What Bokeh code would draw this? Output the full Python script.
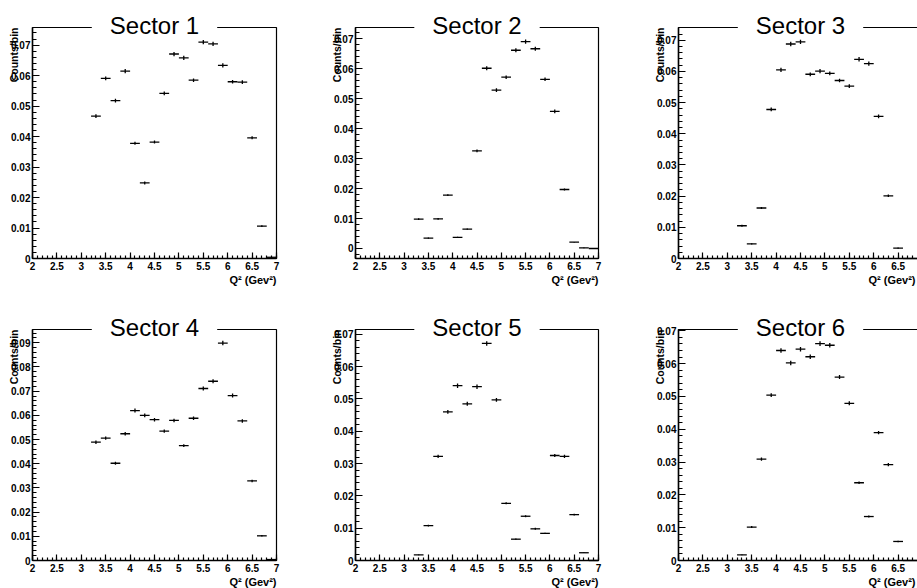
import numpy as np
from bokeh.plotting import figure
from bokeh.models import LinearAxis, FixedTicker, Range1d, Label, ColumnDataSource, BoxAnnotation
from bokeh.layouts import column, row
from bokeh.embed import file_html
from bokeh.resources import INLINE

# ---------------- data ----------------
q2_centers = [3.3, 3.5, 3.7, 3.9, 4.1, 4.3, 4.5, 4.7, 4.9, 5.1,
              5.3, 5.5, 5.7, 5.9, 6.1, 6.3, 6.5, 6.7, 6.9]
bin_width = 0.2

sector1 = [0.0467, 0.0591, 0.0518, 0.0615, 0.0378, 0.0248, 0.0382, 0.0542, 0.0671, 0.0658,
           0.0585, 0.0710, 0.0704, 0.0634, 0.0580, 0.0579, 0.0396, 0.0106, 0.0004]
sector1_err = [0.0006, 0.0006, 0.0006, 0.0007, 0.0005, 0.0005, 0.0005, 0.0006, 0.0007, 0.0007,
               0.0006, 0.0007, 0.0007, 0.0007, 0.0006, 0.0006, 0.0005, 0.0003, 0.0001]

sector2 = [0.0098, 0.00345, 0.0099, 0.0178, 0.0037, 0.00645, 0.0326, 0.0602, 0.0529, 0.0572,
           0.0662, 0.0691, 0.0667, 0.0565, 0.0458, 0.0197, 0.0021, 0.0002, 0.0]
sector2_err = [0.0003, 0.0002, 0.0003, 0.0003, 0.0002, 0.0002, 0.0005, 0.0007, 0.0006, 0.0006,
               0.0007, 0.0007, 0.0007, 0.0006, 0.0006, 0.0003, 0.0001, 0.0001, 0.0]

sector3 = [0.0105, 0.0047, 0.0162, 0.0478, 0.0605, 0.0688, 0.0695, 0.0591, 0.0601, 0.0594,
           0.0571, 0.0553, 0.0639, 0.0625, 0.0456, 0.0201, 0.0033, 0.0, 0.0]
sector3_err = [0.0003, 0.0002, 0.0003, 0.0006, 0.0007, 0.0007, 0.0007, 0.0006, 0.0007, 0.0006,
               0.0006, 0.0006, 0.0007, 0.0007, 0.0006, 0.0004, 0.0002, 0.0, 0.0]

sector4 = [0.0489, 0.0506, 0.0402, 0.0524, 0.0620, 0.0600, 0.0582, 0.0535, 0.0579, 0.0475,
           0.0588, 0.0711, 0.0741, 0.0899, 0.0682, 0.0577, 0.0329, 0.0102, 0.0004]
sector4_err = [0.0007, 0.0007, 0.0006, 0.0007, 0.0008, 0.0008, 0.0007, 0.0007, 0.0007, 0.0006,
               0.0007, 0.0008, 0.0008, 0.0009, 0.0008, 0.0007, 0.0005, 0.0003, 0.0001]

sector5 = [0.00175, 0.0108, 0.0322, 0.0460, 0.0541, 0.0485, 0.0538, 0.0672, 0.0497, 0.0177,
           0.0066, 0.0137, 0.0098, 0.0084, 0.0325, 0.0322, 0.0142, 0.0024, 0.0]
sector5_err = [0.0001, 0.0003, 0.0005, 0.0006, 0.0007, 0.0006, 0.0007, 0.0007, 0.0006, 0.0003,
               0.0002, 0.0003, 0.0003, 0.0002, 0.0005, 0.0005, 0.0003, 0.0001, 0.0]

sector6 = [0.0017, 0.0102, 0.0309, 0.0504, 0.0640, 0.0602, 0.0644, 0.0621, 0.0661, 0.0656,
           0.0559, 0.0479, 0.0237, 0.0134, 0.0390, 0.0292, 0.0058, 0.0, 0.0]
sector6_err = [0.0001, 0.0003, 0.0005, 0.0006, 0.0007, 0.0007, 0.0007, 0.0007, 0.0007, 0.0007,
               0.0006, 0.0006, 0.0004, 0.0003, 0.0005, 0.0005, 0.0002, 0.0, 0.0]

titles = ["Sector 1", "Sector 2", "Sector 3", "Sector 4", "Sector 5", "Sector 6"]
y_title = "Counts/bin"
x_title = "Q\u00b2 (Gev\u00b2)"

x_ticks = [2, 2.5, 3, 3.5, 4, 4.5, 5, 5.5, 6, 6.5, 7]
x_tick_labels = ["2", "2.5", "3", "3.5", "4", "4.5", "5", "5.5", "6", "6.5", "7"]

y_ticks_07 = [0, 0.01, 0.02, 0.03, 0.04, 0.05, 0.06, 0.07]
y_tick_labels_07 = ["0", "0.01", "0.02", "0.03", "0.04", "0.05", "0.06", "0.07"]
y_ticks_09 = [0, 0.01, 0.02, 0.03, 0.04, 0.05, 0.06, 0.07, 0.08, 0.09]
y_tick_labels_09 = ["0", "0.01", "0.02", "0.03", "0.04", "0.05", "0.06", "0.07", "0.08", "0.09"]

y_min = [0.0, -0.00334, 0.0, 0.0, 0.0, 0.0]
y_max = [0.0758, 0.0738, 0.0741, 0.0955, 0.0715, 0.0704]

values = [sector1, sector2, sector3, sector4, sector5, sector6]
errors = [sector1_err, sector2_err, sector3_err, sector4_err, sector5_err, sector6_err]
y_tick_sets = [(y_ticks_07, y_tick_labels_07)] * 3 + [(y_ticks_09, y_tick_labels_09)] + [(y_ticks_07, y_tick_labels_07)] * 2

# ---------------- layout (pixels) ----------------
canvas_w = [316, 322, 279]
frame_left_px = [32, 39, 40]
frame_w_px = [244, 243, 244]
canvas_h = [293, 295]
frame_top_px = [27, 36]
frame_h_px = [231, 231]

BOLD = "bold"
FONT = "Liberation Sans"

x_minor = [float(v) for v in np.round(np.arange(2.0, 7.0001, 0.1), 3)]
y_minor_all = [float(v) for v in np.round(np.arange(-0.01, 0.1001, 0.002), 4)]


def make_panel(i):
    r, c = divmod(i, 3)
    xlo, xhi = x_ticks[0], x_ticks[-1]
    xpp = (xhi - xlo) / frame_w_px[c]
    xs = xlo - frame_left_px[c] * xpp
    xe = xs + canvas_w[c] * xpp
    ypp = (y_max[i] - y_min[i]) / frame_h_px[r]
    ye_ = y_max[i] + frame_top_px[r] * ypp
    ys = ye_ - canvas_h[r] * ypp

    p = figure(frame_width=canvas_w[c], frame_height=canvas_h[r],
               x_range=Range1d(xs, xe), y_range=Range1d(ys, ye_),
               output_backend="svg", toolbar_location=None, tools="",
               x_axis_location=None, y_axis_location=None,
               min_border=0, min_border_left=0, min_border_right=0,
               min_border_top=0, min_border_bottom=0,
               outline_line_color=None, background_fill_color="white",
               border_fill_color="white")
    p.xgrid.visible = False
    p.ygrid.visible = False

    yt, ytl = y_tick_sets[i]
    y_minor = [v for v in y_minor_all if y_min[i] <= v <= y_max[i]]

    xa = LinearAxis(fixed_location=y_min[i], bounds=(xlo, xhi),
                    ticker=FixedTicker(ticks=x_ticks, minor_ticks=x_minor),
                    major_label_overrides={t: l for t, l in zip(x_ticks, x_tick_labels)},
                    major_tick_in=6, major_tick_out=0, minor_tick_in=3, minor_tick_out=0,
                    major_label_standoff=3, axis_line_width=1.5, axis_line_color="black",
                    major_tick_line_width=1.2, minor_tick_line_width=1.2,
                    major_label_text_font=FONT, major_label_text_font_style=BOLD,
                    major_label_text_font_size="10px", major_label_text_color="black")
    p.add_layout(xa, "below")

    ya = LinearAxis(fixed_location=xlo, bounds=(y_min[i], y_max[i]),
                    ticker=FixedTicker(ticks=yt, minor_ticks=y_minor),
                    major_label_overrides={t: l for t, l in zip(yt, ytl)},
                    major_tick_in=7, major_tick_out=0, minor_tick_in=4, minor_tick_out=0,
                    major_label_standoff=2, axis_line_width=1.5, axis_line_color="black",
                    major_tick_line_width=1.2, minor_tick_line_width=1.2,
                    major_label_text_font=FONT, major_label_text_font_style=BOLD,
                    major_label_text_font_size="10px", major_label_text_color="black")
    p.add_layout(ya, "left")

    xc = np.array(q2_centers)
    yv = np.array(values[i])
    ye = np.array(errors[i])
    src = ColumnDataSource(dict(x=xc, y=yv, xl=xc - bin_width / 2, xr=xc + bin_width / 2,
                                ylo=yv - ye, yhi=yv + ye))
    p.segment(x0="xl", y0="y", x1="xr", y1="y", source=src, line_color="black", line_width=1.3)
    p.segment(x0="x", y0="ylo", x1="x", y1="yhi", source=src, line_color="black", line_width=1.3)

    p.add_layout(BoxAnnotation(left=xlo, right=xhi, bottom=y_min[i], top=y_max[i],
                               fill_alpha=0, fill_color=None, line_color="black",
                               line_width=1.2, line_alpha=1.0))

    p.add_layout(Label(x=(xlo + xhi) / 2, y=y_max[i], y_offset=2, text=titles[i],
                       text_align="center", text_baseline="alphabetic",
                       text_font=FONT, text_font_size="24px", text_color="black",
                       background_fill_color="white", padding=(18, 0)))
    p.add_layout(Label(x=xlo, y=y_max[i], x_offset=-19, angle=np.pi / 2, text=y_title,
                       text_align="right", text_baseline="middle",
                       text_font=FONT, text_font_style=BOLD, text_font_size="10.5px",
                       text_color="black"))
    # x-axis title: right-aligned to the frame's right edge (kept inside the canvas)
    qx = xhi if c < 2 else xe
    qoff = 0 if c < 2 else -2
    p.add_layout(Label(x=qx, y=y_min[i], x_offset=qoff, y_offset=-21, text=x_title,
                       text_align="right", text_baseline="alphabetic",
                       text_font=FONT, text_font_style=BOLD, text_font_size="11px",
                       text_color="black"))
    return p


panels = [make_panel(i) for i in range(6)]
layout = column(row(*panels[:3], spacing=0), row(*panels[3:], spacing=0), spacing=0)

open("out.html", "w").write(file_html(layout, INLINE))
